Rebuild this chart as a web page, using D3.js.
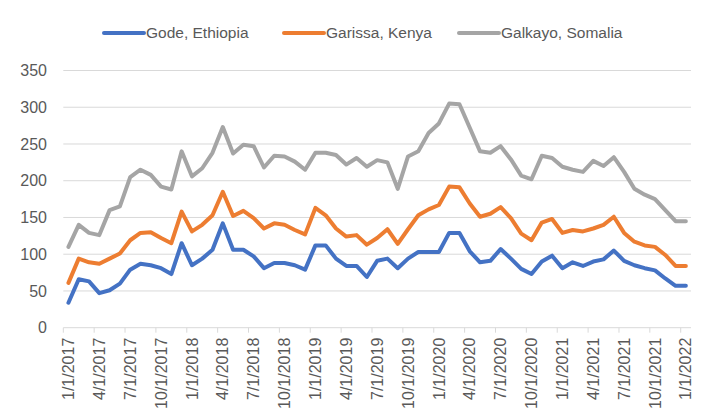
<!DOCTYPE html>
<html>
<head>
<meta charset="utf-8">
<script src="https://cdn.jsdelivr.net/npm/d3@7"></script>
<style>
  body { margin: 0; background: #fff; }
  svg { font-family: "Liberation Sans", Arial, sans-serif; }
</style>
</head>
<body>
<div id="chart"></div>
<script>
// monthly, 1/1/2017 .. 1/1/2022
const months = d3.timeMonth.range(new Date(2017, 0, 1), new Date(2022, 1, 1));

const gode = [34, 66, 63, 47, 51, 60, 79, 87, 85, 81, 73,
  115, 85, 94, 106, 142, 106, 106, 97, 81, 88,
  88, 85, 79, 112, 112, 94, 84, 84, 69, 91,
  94, 81, 94, 103, 103, 103, 129, 129, 104, 89,
  91, 107, 94, 80, 73, 90, 98, 81, 89, 84,
  90, 93, 105, 91, 85, 81, 78, 67, 57, 57];

const garissa = [61, 94, 89, 87, 94, 101, 119, 129, 130, 122, 115,
  158, 131, 140, 153, 185, 152, 159, 149, 135, 142,
  140, 133, 127, 163, 153, 135, 124, 126, 113, 122,
  134, 114, 134, 153, 161, 167, 192, 191, 169, 151,
  155, 164, 149, 128, 119, 143, 148, 129, 133, 131,
  135, 140, 151, 129, 117, 112, 110, 99, 84, 84];

const galkayo = [110, 140, 129, 126, 160, 165, 205, 215, 208, 192, 188,
  240, 206, 217, 238, 273, 237, 249, 247, 218, 234,
  233, 226, 215, 238, 238, 235, 222, 231, 219, 228,
  225, 189, 233, 240, 265, 278, 305, 304, 272, 240,
  238, 247, 229, 207, 202, 234, 231, 219, 215, 212,
  227, 220, 232, 212, 189, 181, 175, 160, 145, 145];

const seriesNames = ['Gode, Ethiopia', 'Garissa, Kenya', 'Galkayo, Somalia'];
const seriesColors = ['#4472C4', '#ED7D31', '#A5A5A5'];
const yTicks = [0, 50, 100, 150, 200, 250, 300, 350];

const width = 707, height = 411;
const margin = { top: 70.5, right: 16, bottom: 83.3, left: 63.3 };

const svg = d3.select('#chart')
  .append('svg')
  .attr('width', width)
  .attr('height', height);

const x = d3.scaleBand()
  .domain(months)
  .range([margin.left, width - margin.right])
  .padding(0);

const y = d3.scaleLinear()
  .domain([0, 350])
  .range([height - margin.bottom, margin.top]);

const fmt = d3.timeFormat('%-m/%-d/%Y');

// gridlines
svg.append('g')
  .selectAll('line')
  .data(yTicks)
  .enter().append('line')
    .attr('x1', margin.left)
    .attr('x2', width - margin.right)
    .attr('y1', d => y(d))
    .attr('y2', d => y(d))
    .attr('stroke', '#d9d9d9')
    .attr('stroke-width', 1);

// y labels
svg.append('g')
  .selectAll('text')
  .data(yTicks)
  .enter().append('text')
    .attr('x', 47)
    .attr('y', d => y(d))
    .attr('dy', '0.35em')
    .attr('text-anchor', 'end')
    .style('font-size', '16px')
    .style('fill', '#595959')
    .text(d => d);

// x ticks every quarter
const quarterly = months.filter((d, i) => i % 3 === 0);

svg.append('g')
  .selectAll('line')
  .data(quarterly)
  .enter().append('line')
    .attr('x1', d => x(d))
    .attr('x2', d => x(d))
    .attr('y1', y(0))
    .attr('y2', y(0) + 5)
    .attr('stroke', '#d9d9d9');

svg.append('g')
  .selectAll('text')
  .data(quarterly)
  .enter().append('text')
    .attr('transform', d => `translate(${x(d) + x.bandwidth() / 2}, ${y(0) + 10}) rotate(-90)`)
    .attr('dy', '0.35em')
    .attr('text-anchor', 'end')
    .style('font-size', '16px')
    .style('fill', '#595959')
    .text(d => fmt(d));

// series lines
const allSeries = [gode, garissa, galkayo];
const line = d3.line()
  .x((d, i) => x(months[i]) + x.bandwidth() / 2)
  .y(d => y(d));

svg.append('g')
  .selectAll('path')
  .data(allSeries)
  .enter().append('path')
    .attr('d', line)
    .attr('fill', 'none')
    .attr('stroke', (d, i) => seriesColors[i])
    .attr('stroke-width', 4)
    .attr('stroke-linejoin', 'round')
    .attr('stroke-linecap', 'round');

// legend
const legendX = [104, 284, 459];
const legend = svg.append('g')
  .selectAll('g')
  .data(seriesNames)
  .enter().append('g')
    .attr('transform', (d, i) => `translate(${legendX[i]}, 33)`);

legend.append('line')
  .attr('x1', 0)
  .attr('x2', 40)
  .attr('stroke', (d, i) => seriesColors[i])
  .attr('stroke-width', 4)
  .attr('stroke-linecap', 'round');

legend.append('text')
  .attr('x', 42)
  .attr('dy', '0.35em')
  .style('font-size', '15.5px')
  .style('fill', '#595959')
  .text(d => d);
</script>
</body>
</html>
